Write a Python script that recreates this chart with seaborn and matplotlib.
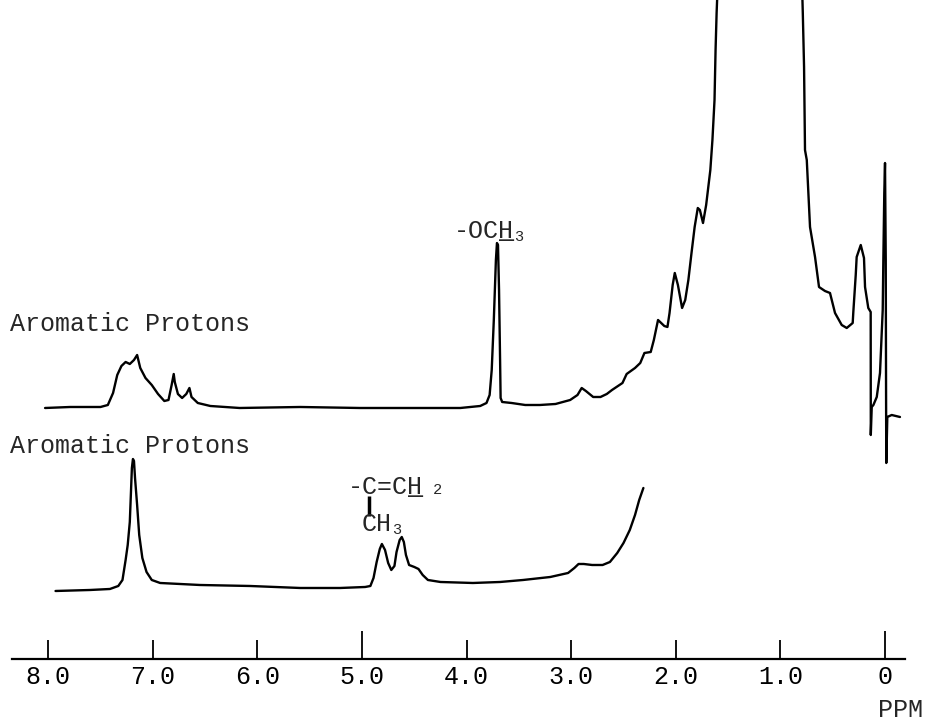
import matplotlib
matplotlib.use("Agg")
import matplotlib.pyplot as plt
import seaborn as sns
import pandas as pd

# ---------------- data ----------------
# upper spectrum: chemical shift (ppm) and intensity (arbitrary units, stacked)
upper_ppm = [8.03, 7.79, 7.50, 7.43, 7.38, 7.34, 7.30, 7.26, 7.22, 7.18, 7.15, 7.12,
             7.07, 7.01, 6.95, 6.89, 6.85, 6.82, 6.80, 6.79, 6.76, 6.72, 6.68, 6.65,
             6.63, 6.57, 6.45, 6.17, 5.59, 5.02, 4.45, 4.06, 3.87, 3.81, 3.78, 3.76,
             3.74, 3.72, 3.71, 3.70, 3.69, 3.68, 3.675, 3.66, 3.57, 3.44, 3.30, 3.15,
             3.01, 2.94, 2.90, 2.86, 2.79, 2.72, 2.66, 2.61, 2.51, 2.47, 2.39, 2.34,
             2.30, 2.24, 2.21, 2.17, 2.11, 2.08, 2.06, 2.03, 2.01, 1.98, 1.94, 1.91,
             1.88, 1.85, 1.82, 1.79, 1.77, 1.74, 1.71, 1.67, 1.65, 1.63, 1.62, 1.61,
             1.59, 1.45, 1.25, 1.05, 0.80, 0.786, 0.774, 0.765, 0.748, 0.717, 0.669,
             0.631, 0.574, 0.526, 0.478, 0.414, 0.366, 0.309, 0.303, 0.280, 0.271,
             0.232, 0.201, 0.191, 0.160, 0.137, 0.136, 0.127, 0.111, 0.079, 0.048,
             0.022, 0.016, 0.007, 0.000, -0.007, -0.010, -0.012, -0.022, -0.064, -0.143]
upper_int = [25.1, 25.2, 25.2, 25.4, 26.6, 28.4, 29.3, 29.7, 29.5, 29.9, 30.4, 29.1,
             28.1, 27.4, 26.5, 25.8, 25.9, 27.4, 28.5, 27.7, 26.5, 26.1, 26.5, 27.1,
             26.2, 25.6, 25.3, 25.1, 25.2, 25.1, 25.1, 25.1, 25.3, 25.6, 26.4, 28.9,
             33.9, 39.9, 41.6, 41.4, 36.9, 29.9, 26.1, 25.7, 25.6, 25.4, 25.4, 25.5,
             25.9, 26.4, 27.1, 26.8, 26.2, 26.2, 26.5, 26.9, 27.6, 28.5, 29.1, 29.6,
             30.6, 30.7, 31.9, 33.9, 33.3, 33.2, 34.6, 37.4, 38.6, 37.4, 35.1, 35.9,
             37.9, 40.6, 43.2, 45.1, 44.9, 43.6, 45.4, 48.9, 51.9, 55.9, 60.9, 64.6,
             70.0, 95.0, 150.0, 95.0, 70.0, 64.6, 59.2, 50.9, 49.9, 43.2, 40.2,
             37.2, 36.8, 36.6, 34.6, 33.4, 33.1, 33.6, 34.7, 38.4, 40.2,
             41.4, 40.1, 37.2, 35.1, 34.7, 22.4, 25.2, 25.4, 26.2, 28.6,
             34.9, 39.9, 46.6, 49.6, 39.9, 26.6, 19.6, 24.2, 24.4, 24.2]

# lower spectrum
lower_ppm = [7.93, 7.60, 7.41, 7.33, 7.29, 7.26, 7.24, 7.22, 7.21, 7.20, 7.19, 7.18,
             7.17, 7.15, 7.13, 7.10, 7.06, 7.01, 6.93, 6.55, 6.07, 5.59, 5.21, 4.97,
             4.92, 4.89, 4.86, 4.83, 4.81, 4.78, 4.75, 4.72, 4.69, 4.67, 4.64, 4.62,
             4.60, 4.58, 4.55, 4.50, 4.46, 4.42, 4.37, 4.25, 3.94, 3.68, 3.46, 3.20,
             3.03, 2.97, 2.93, 2.88, 2.80, 2.70, 2.63, 2.56, 2.50, 2.44, 2.39, 2.35, 2.31]
lower_int = [6.8, 6.9, 7.0, 7.3, 7.9, 9.9, 11.4, 13.7, 16.4, 19.1, 20.0, 19.8,
             18.1, 15.4, 12.4, 10.1, 8.7, 7.9, 7.6, 7.4, 7.3, 7.1, 7.1, 7.2,
             7.3, 8.1, 9.7, 11.0, 11.5, 10.9, 9.6, 8.9, 9.3, 10.7, 11.9, 12.2,
             11.7, 10.4, 9.4, 9.2, 9.0, 8.4, 7.9, 7.7, 7.6, 7.7, 7.9, 8.2,
             8.6, 9.1, 9.5, 9.5, 9.4, 9.4, 9.7, 10.6, 11.6, 12.9, 14.4, 15.9, 17.1]

tick_values = [8.0, 7.0, 6.0, 5.0, 4.0, 3.0, 2.0, 1.0, 0.0]
tick_labels = ["8.0", "7.0", "6.0", "5.0", "4.0", "3.0", "2.0", "1.0", "0"]
long_ticks = [5.0, 0.0]

label_aromatic = "Aromatic Protons"
axis_label = "PPM"

# ---------------- figure ----------------
sns.set_style("white")
plt.rcParams["font.family"] = ["Liberation Mono", "DejaVu Sans Mono"]

fig = plt.figure(figsize=(9.28, 7.24), dpi=100)
ax = fig.add_axes([0.0125, 0.0898, 0.9626, 0.9102])

df_u = pd.DataFrame({"ppm": upper_ppm, "intensity": upper_int})
df_l = pd.DataFrame({"ppm": lower_ppm, "intensity": lower_int})
sns.lineplot(data=df_u, x="ppm", y="intensity", sort=False, estimator=None,
             color="black", lw=1.7, ax=ax)
sns.lineplot(data=df_l, x="ppm", y="intensity", sort=False, estimator=None,
             color="black", lw=1.7, ax=ax)

ax.set_xlim(8.35, -0.19)
ax.set_ylim(0, 65.9)
ax.set_xlabel("")
ax.set_ylabel("")
ax.set_yticks([])
for s in ["left", "right", "top"]:
    ax.spines[s].set_visible(False)
ax.spines["bottom"].set_linewidth(1.6)
ax.spines["bottom"].set_color("black")

ax.set_xticks(tick_values)
ax.set_xticklabels(tick_labels)
ax.tick_params(axis="x", direction="in", length=14, width=1.3, pad=4,
               labelsize=18, colors="black", bottom=True)
for t, v in zip(ax.xaxis.get_major_ticks(), tick_values):
    if v in long_ticks:
        t.tick1line.set_markersize(20)

fs = 18
# labels
ax.text(8.37, 33.5, label_aromatic, fontsize=fs, ha="left", va="center")
ax.text(8.37, 21.3, label_aromatic, fontsize=fs, ha="left", va="center")

# -OCH3 label
och_x, och_y = 4.12, 42.1
ax.text(och_x, och_y, "-OCH", fontsize=fs, ha="left", va="baseline")
ax.text(och_x, och_y, "   _", fontsize=fs, ha="left", va="baseline")
ax.annotate("3", xy=(och_x, och_y), xytext=(43.5, -2), textcoords="offset points",
            fontsize=11, ha="left", va="baseline")

# -C=CH2 / CH3 label
ax.text(5.134, 16.5, "-C=CH", fontsize=fs, ha="left", va="baseline")
ax.text(5.134, 16.5, "    _", fontsize=fs, ha="left", va="baseline")
ax.annotate("2", xy=(5.134, 16.5), xytext=(61, 0), textcoords="offset points",
            fontsize=11, ha="left", va="baseline")
ax.plot([4.93, 4.93], [14.3, 16.3], color="black", lw=2.5, solid_capstyle="butt")
ax.text(5.00, 12.8, "CH", fontsize=fs, ha="left", va="baseline")
ax.annotate("3", xy=(5.00, 12.8), xytext=(21.8, -2), textcoords="offset points",
            fontsize=11, ha="left", va="baseline")

fig.text(0.970, 0.019, axis_label, fontsize=fs, ha="center", va="center")

fig.savefig("out.png", dpi=100, facecolor="white")
